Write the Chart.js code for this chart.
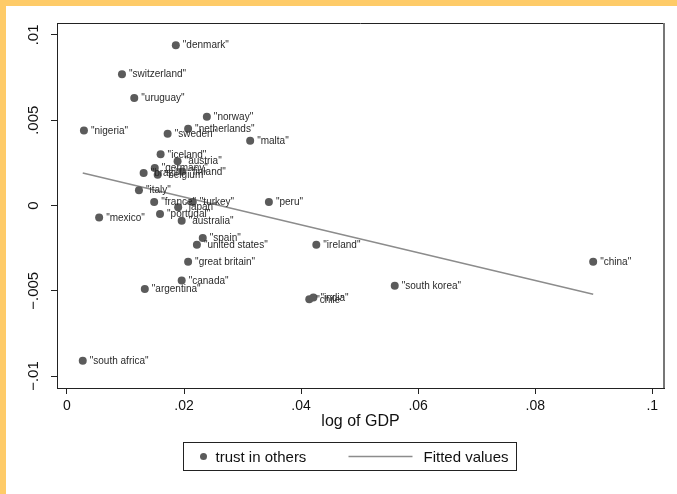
<!DOCTYPE html>
<html>
<head>
<meta charset="utf-8">
<title>trust in others vs log of GDP</title>
<script src="https://cdn.jsdelivr.net/npm/chart.js@4.4.1/dist/chart.umd.min.js"></script>
<style>
  html, body { margin: 0; padding: 0; }
  body { width: 677px; height: 494px; background: #fecb68; overflow: hidden; position: relative; }
  #graph { position: absolute; left: 6px; top: 6px; width: 671px; height: 488px; background: #fff; }
</style>
</head>
<body>
<div id="graph"><canvas id="trustChart" width="671" height="488"></canvas></div>
<script>
// country residuals: log of GDP (x) against trust in others (y)
const countries = [
  'denmark', 'switzerland', 'uruguay', 'norway', 'netherlands', 'sweden',
  'nigeria', 'malta', 'iceland', 'austria', 'germany', 'finland', 'brazil',
  'belgium', 'italy', 'france', 'turkey', 'japan', 'portugal', 'australia',
  'mexico', 'peru', 'spain', 'united states', 'great britain', 'canada',
  'argentina', 'ireland', 'south korea', 'chile', 'india', 'china', 'south africa'
];
const logGdp = [
  0.0186, 0.0094, 0.0115, 0.0239, 0.0207, 0.0172,
  0.0029, 0.0313, 0.0160, 0.0189, 0.0150, 0.0197, 0.0131,
  0.0155, 0.0123, 0.0149, 0.0215, 0.0190, 0.0159, 0.0196,
  0.0055, 0.0345, 0.0232, 0.0222, 0.0207, 0.0196,
  0.0133, 0.0426, 0.0560, 0.0414, 0.0421, 0.0899, 0.0027
];
const trust = [
  0.0094, 0.0077, 0.0063, 0.0052, 0.0045, 0.0042,
  0.0044, 0.0038, 0.0030, 0.0026, 0.0022, 0.0020, 0.0019,
  0.0018, 0.0009, 0.0002, 0.0002, -0.0001, -0.0005, -0.0009,
  -0.0007, 0.0002, -0.0019, -0.0023, -0.0033, -0.0044,
  -0.0049, -0.0023, -0.0047, -0.0055, -0.0054, -0.0033, -0.0091
];
// regression line end points
const fitX = [0.0027, 0.0899];
const fitY = [0.0019, -0.0052];

const xTicks = [0, 0.02, 0.04, 0.06, 0.08, 0.1];
const xTickLabels = ['0', '.02', '.04', '.06', '.08', '.1'];
const yTicks = [-0.01, -0.005, 0, 0.005, 0.01];
const yTickLabels = ['\u2212.01', '\u2212.005', '0', '.005', '.01'];

const FONT = '"Liberation Sans", Arial, Helvetica, sans-serif';
const MARKER = '#5b5b5b';
const FITLINE = '#8c8c8c';
const INK = '#111';

Chart.defaults.font.family = FONT;

// writes the quoted country name to the right of each marker
const pointLabels = {
  id: 'pointLabels',
  afterDatasetsDraw(chart) {
    const ctx = chart.ctx;
    const meta = chart.getDatasetMeta(0);
    ctx.save();
    ctx.font = '10px ' + FONT;
    ctx.fillStyle = '#2a2a2a';
    ctx.textBaseline = 'middle';
    meta.data.forEach((pt, i) => {
      ctx.fillText('"' + countries[i] + '"', pt.x + 7, pt.y + 0.5);
    });
    ctx.restore();
  }
};

// top and right edges of the plot region
const plotFrame = {
  id: 'plotFrame',
  afterDraw(chart) {
    const {ctx, chartArea: a} = chart;
    ctx.save();
    ctx.strokeStyle = '#222';
    ctx.lineWidth = 1;
    ctx.beginPath();
    ctx.moveTo(a.left, a.top + 0.5);
    ctx.lineTo(a.right, a.top + 0.5);
    ctx.stroke();
    ctx.strokeStyle = '#777';
    ctx.lineWidth = 2;
    ctx.beginPath();
    ctx.moveTo(a.right, a.top);
    ctx.lineTo(a.right, a.bottom);
    ctx.stroke();
    ctx.restore();
  }
};

// boxed legend under the axis title
const boxLegend = {
  id: 'boxLegend',
  afterDraw(chart) {
    const ctx = chart.ctx;
    const ds = chart.data.datasets;
    const box = {x: 177.5, y: 436.5, w: 333, h: 28};
    const cy = box.y + box.h / 2;
    ctx.save();
    ctx.strokeStyle = '#222';
    ctx.lineWidth = 1;
    ctx.strokeRect(box.x, box.y, box.w, box.h);

    ctx.fillStyle = ds[0].backgroundColor;
    ctx.beginPath();
    ctx.arc(box.x + 20, cy, 3.5, 0, Math.PI * 2);
    ctx.fill();

    ctx.strokeStyle = ds[1].borderColor;
    ctx.lineWidth = 1.5;
    ctx.beginPath();
    ctx.moveTo(box.x + 165, cy);
    ctx.lineTo(box.x + 229, cy);
    ctx.stroke();

    ctx.fillStyle = INK;
    ctx.font = '15px ' + FONT;
    ctx.textBaseline = 'middle';
    ctx.fillText(ds[0].label, box.x + 32, cy + 1);
    ctx.fillText(ds[1].label, box.x + 240, cy + 1);
    ctx.restore();
  }
};

const ctx = document.getElementById('trustChart').getContext('2d');
const chart = new Chart(ctx, {
  type: 'scatter',
  data: {
    datasets: [
      {
        label: 'trust in others',
        data: logGdp.map((x, i) => ({x: x, y: trust[i]})),
        backgroundColor: MARKER,
        borderColor: MARKER,
        borderWidth: 0,
        pointRadius: 4,
        pointHoverRadius: 4
      },
      {
        type: 'line',
        label: 'Fitted values',
        data: fitX.map((x, i) => ({x: x, y: fitY[i]})),
        borderColor: FITLINE,
        borderWidth: 1.5,
        pointRadius: 0,
        fill: false
      }
    ]
  },
  options: {
    responsive: false,
    animation: false,
    layout: { padding: { left: 0, top: 17, right: 13, bottom: 58 } },
    plugins: {
      legend: { display: false },
      tooltip: { enabled: false }
    },
    scales: {
      x: {
        type: 'linear',
        min: -0.0017,
        max: 0.102,
        afterBuildTicks: s => { s.ticks = xTicks.map(v => ({value: v})); },
        afterFit: s => { s.height = 48; },
        grid: { drawOnChartArea: false, tickLength: 6, tickColor: '#222' },
        border: { color: '#222', width: 1 },
        ticks: {
          maxRotation: 0,
          padding: 4,
          color: INK,
          font: { size: 14 },
          callback: (v, i) => xTickLabels[i]
        },
        title: {
          display: true,
          text: 'log of GDP',
          color: INK,
          font: { size: 16 },
          padding: { top: 0, bottom: 5 }
        }
      },
      y: {
        type: 'linear',
        min: -0.0107,
        max: 0.0107,
        afterBuildTicks: s => { s.ticks = yTicks.map(v => ({value: v})); },
        afterFit: s => { s.width = 51; },
        grid: { drawOnChartArea: false, tickLength: 6, tickColor: '#222' },
        border: { color: '#222', width: 1 },
        ticks: {
          minRotation: 90,
          maxRotation: 90,
          crossAlign: 'center',
          padding: -2,
          color: INK,
          font: { size: 15 },
          callback: (v, i) => yTickLabels[i]
        }
      }
    }
  },
  plugins: [pointLabels, plotFrame, boxLegend]
});
</script>
</body>
</html>
